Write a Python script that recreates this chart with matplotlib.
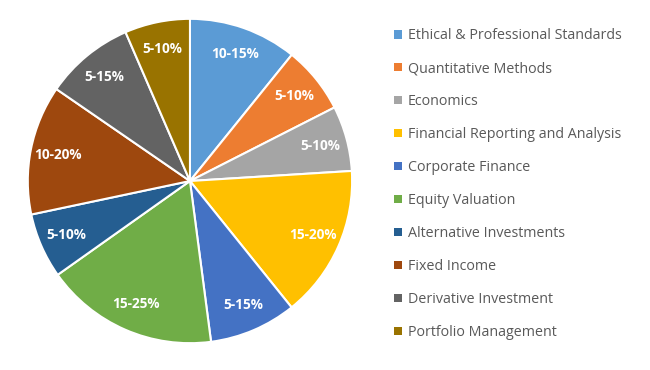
import matplotlib
matplotlib.use("Agg")
import matplotlib.pyplot as plt

# CFA level topic weights (in percent of the pie)
topics = ['Ethical & Professional Standards', 'Quantitative Methods', 'Economics',
          'Financial Reporting and Analysis', 'Corporate Finance', 'Equity Valuation',
          'Alternative Investments', 'Fixed Income', 'Derivative Investment',
          'Portfolio Management']
shares = [10.8, 6.7, 6.5, 15.2, 8.7, 17.25, 6.5, 12.9, 8.9, 6.5]
ranges = ['10-15%', '5-10%', '5-10%', '15-20%', '5-15%', '15-25%',
          '5-10%', '10-20%', '5-15%', '5-10%']
colors = ['#5B9BD5', '#ED7D31', '#A5A5A5', '#FFC000', '#4472C4', '#70AD47',
          '#255E91', '#9E480E', '#636363', '#997300']

plt.rcParams['font.family'] = ['Open Sans', 'DejaVu Sans']

fig = plt.figure(figsize=(6.5, 3.7), dpi=100)
ax = fig.add_axes([0.0415, 0.0703, 0.5015, 0.881])

wedges, texts = ax.pie(shares, colors=colors, startangle=90, counterclock=False,
                       labels=ranges, labeldistance=0.83,
                       wedgeprops=dict(edgecolor='white', linewidth=1.5))
for t in texts:
    t.set_color('white')
    t.set_fontweight('bold')
    t.set_fontsize(9.8)
    t.set_ha('center')
    t.set_va('center')
ax.set_xlim(-1.005, 1.005)
ax.set_ylim(-1.005, 1.005)
ax.set_aspect('equal')

leg = fig.legend(wedges, topics, loc='upper left', bbox_to_anchor=(0.597, 0.939),
                 frameon=False, fontsize=10.3, handlelength=0.55, handleheight=0.55,
                 handletextpad=0.43, labelspacing=1.255, borderaxespad=0)
for t in leg.get_texts():
    t.set_color('#595959')
for h in leg.legend_handles:
    h.set_edgecolor('none')

fig.savefig('out.png', dpi=100)
